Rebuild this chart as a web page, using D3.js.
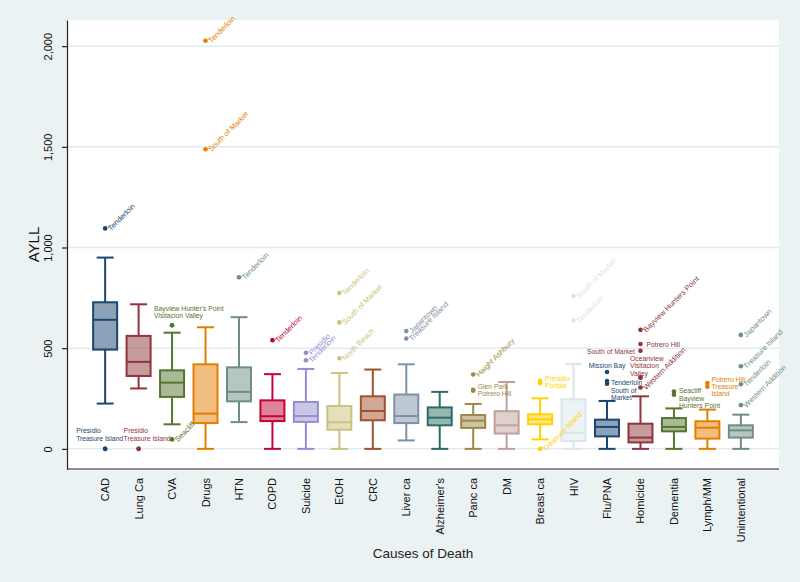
<!DOCTYPE html>
<html>
<head>
<meta charset="utf-8">
<script src="https://cdn.jsdelivr.net/npm/d3@7/dist/d3.min.js"></script>
<style>
  html, body { margin: 0; padding: 0; background: #eaf2f3; }
  svg { display: block; font-family: "Liberation Sans", Arial, Helvetica, sans-serif; }
</style>
</head>
<body>
<svg id="chart" width="800" height="582"></svg>
<script>
// ---------- DATA ----------
const categories = ["CAD","Lung Ca","CVA","Drugs","HTN","COPD","Suicide","EtOH","CRC","Liver ca",
  "Alzheimer's","Panc ca","DM","Breast ca","HIV","Flu/PNA","Homicide","Dementia","Lymph/MM","Unintentional"];
const whiskerLow  = [225, 300, 122,   0, 133,   0,   0,   0,   0,  42,   0,   0,   0,  47,   0,   0,   0,   0,   0,   0];
const q1          = [493, 362, 258, 128, 236, 138, 134,  95, 142, 128, 117, 104,  76, 122,  39,  62,  32,  87,  51,  56];
const median      = [641, 432, 329, 175, 283, 162, 163, 132, 188, 163, 155, 140, 117, 147,  79, 109,  56, 109, 105,  92];
const q3          = [728, 561, 390, 420, 405, 241, 233, 213, 261, 270, 206, 168, 187, 172, 246, 145, 125, 153, 137, 117];
const whiskerHigh = [950, 718, 577, 604, 654, 371, 397, 377, 394, 420, 283, 223, 332, 251, 422, 238, 261, 201, 195, 170];

const outlierCause = [
  "CAD","CAD","CAD",
  "Lung Ca","Lung Ca",
  "CVA","CVA","CVA",
  "Drugs","Drugs",
  "HTN",
  "COPD",
  "Suicide","Suicide",
  "EtOH","EtOH","EtOH",
  "Liver ca","Liver ca",
  "Panc ca","Panc ca","Panc ca",
  "Breast ca","Breast ca","Breast ca",
  "HIV","HIV",
  "Flu/PNA","Flu/PNA","Flu/PNA",
  "Homicide","Homicide","Homicide","Homicide","Homicide","Homicide",
  "Dementia","Dementia",
  "Lymph/MM","Lymph/MM",
  "Unintentional","Unintentional","Unintentional","Unintentional"
];
const outlierValue = [
  1095, 0, 0,
  0, 0,
  614, 614, 47,
  2027, 1488,
  852,
  540,
  477, 440,
  774, 628, 450,
  585, 548,
  369, 293, 289,
  338, 326, 0,
  759, 637,
  382, 337, 324,
  591, 521, 487, 354, 354, 305,
  285, 269,
  327, 309,
  566, 410, 321, 217
];
const outlierName = [
  "Tenderloin","Presidio","Treasure Island",
  "Presidio","Treasure Island",
  "Bayview Hunter's Point","Visitacion Valley","Seacliff",
  "Tenderloin","South of Market",
  "Tenderloin",
  "Tenderloin",
  "Presidio","Tenderloin",
  "Tenderloin","South of Market","North Beach",
  "Japantown","Treasure Island",
  "Haight Ashbury","Glen Park","Potrero Hill",
  "Presidio","Portola","Treasure Island",
  "South of Market","Tenderloin",
  "Mission Bay","Tenderloin","South of Market",
  "Bayview Hunters Point","Potrero Hill","South of Market","Oceanview","Visitacion Valley","Western Addition",
  "Seacliff","Bayview Hunters Point",
  "Potrero Hill","Treasure Island",
  "Japantown","Treasure Island","Tenderloin","Western Addition"
];
// points sharing a group share one horizontal label; "" = own rotated label
const outlierGroup = [
  "", "cad0", "cad0",
  "lung0", "lung0",
  "cvaHi", "cvaHi", "",
  "", "",
  "",
  "",
  "", "",
  "", "", "",
  "", "",
  "", "pancLo", "pancLo",
  "breastHi", "breastHi", "",
  "", "",
  "fluMB", "fluLo", "fluLo",
  "", "homPH", "homSoM", "homOV", "homOV", "",
  "dem", "dem",
  "lymph", "lymph",
  "", "", "", ""
];
const yTicks = [0, 500, 1000, 1500, 2000];
const yTitle = "AYLL";
const xTitle = "Causes of Death";

// ---------- STYLE ----------
const palette = ["#1a476f","#90353b","#55752f","#e37e00","#6e8e84","#c10534","#938dd2","#cac27e",
  "#a0522d","#7b92a8","#2d6d66","#9c8847","#bfa19c","#ffd200","#d9e6eb"];
const groupStyle = {
  cad0:     {anchor:"start",  dx:-29, dy:-18.5, wrap:15},
  lung0:    {anchor:"start",  dx:-15, dy:-18.5, wrap:15},
  cvaHi:    {anchor:"start",  dx:-18, dy:-17.7, wrap:22},
  pancLo:   {anchor:"start",  dx:4.5, dy:-4.5,  wrap:12},
  breastHi: {anchor:"start",  dx:5,   dy:-4.3,  wrap:8},
  fluMB:    {anchor:"middle", dx:0,   dy:-7,    wrap:20},
  fluLo:    {anchor:"start",  dx:4,   dy:0,     wrap:10},
  homPH:    {anchor:"start",  dx:6,   dy:0,     wrap:20},
  homSoM:   {anchor:"end",    dx:-5.5,dy:0,     wrap:20},
  homOV:    {anchor:"start",  dx:-10.5,dy:-19.4,wrap:10},
  dem:      {anchor:"start",  dx:5,   dy:-2.7,  wrap:13},
  lymph:    {anchor:"start",  dx:4,   dy:-6,    wrap:12}
};

const svg = d3.select("#chart");
const W = 800, H = 582;
const plot = {left: 67, right: 779, top: 20, bottom: 469};

svg.append("rect").attr("width", W).attr("height", H).attr("fill", "#eaf2f3");
svg.append("rect").attr("x", plot.left).attr("y", plot.top)
  .attr("width", plot.right - plot.left).attr("height", plot.bottom - plot.top).attr("fill", "#ffffff");

const x = d3.scalePoint().domain(categories).range([plot.left, plot.right]).padding(1.14);
const y = d3.scaleLinear().domain([-100, 2130]).range([plot.bottom, plot.top]);
const color = c => palette[categories.indexOf(c) % palette.length];

// gridlines
svg.append("g").selectAll("line").data(yTicks).join("line")
  .attr("x1", plot.left).attr("x2", plot.right)
  .attr("y1", d => y(d)).attr("y2", d => y(d))
  .attr("stroke", "#e1ebf0").attr("stroke-width", 1.5);

// y axis
const yAxis = svg.append("g").attr("transform", `translate(${plot.left},0)`)
  .call(d3.axisLeft(y).tickValues(yTicks).tickSize(5).tickSizeOuter(0).tickFormat(d3.format(",")));
yAxis.select(".domain").attr("stroke", "#222").attr("stroke-width", 1.2);
yAxis.selectAll(".tick line").attr("stroke", "#222").attr("stroke-width", 1.2);
yAxis.selectAll(".tick text")
  .attr("x", null).attr("dy", null)
  .attr("transform", "translate(-19,0) rotate(-90)")
  .attr("text-anchor", "middle").attr("dominant-baseline", "central")
  .attr("font-size", 11).attr("fill", "#111")
  .style("font-family", '"Liberation Sans", Arial, sans-serif');

// x axis line
svg.append("line").attr("x1", plot.left).attr("x2", plot.right)
  .attr("y1", plot.bottom).attr("y2", plot.bottom)
  .attr("stroke", "#222").attr("stroke-width", 1.2);

// x labels
svg.append("g").selectAll("text").data(categories).join("text")
  .attr("transform", d => `translate(${x(d)},478) rotate(-90)`)
  .attr("text-anchor", "end").attr("dominant-baseline", "central")
  .attr("font-size", 11).attr("fill", "#111").text(d => d);

// titles
svg.append("text").attr("transform", `translate(33,${(plot.top + plot.bottom) / 2}) rotate(-90)`)
  .attr("text-anchor", "middle").attr("dominant-baseline", "central")
  .attr("font-size", 15).attr("fill", "#111").text(yTitle);
svg.append("text").attr("x", (plot.left + plot.right) / 2).attr("y", 553)
  .attr("text-anchor", "middle").attr("dominant-baseline", "central")
  .attr("font-size", 13.5).attr("fill", "#222").text(xTitle);

// boxes
const boxW = 24, capW = 17;
const boxes = categories.map((c, i) => ({c, lo: whiskerLow[i], q1: q1[i], med: median[i], q3: q3[i], hi: whiskerHigh[i]}));
const bg = svg.append("g").selectAll("g").data(boxes).join("g");
bg.append("line").attr("x1", d => x(d.c)).attr("x2", d => x(d.c))
  .attr("y1", d => y(d.q3)).attr("y2", d => y(d.hi))
  .attr("stroke", d => color(d.c)).attr("stroke-width", 2);
bg.append("line").attr("x1", d => x(d.c)).attr("x2", d => x(d.c))
  .attr("y1", d => y(d.q1)).attr("y2", d => y(d.lo))
  .attr("stroke", d => color(d.c)).attr("stroke-width", 2);
bg.append("line").attr("x1", d => x(d.c) - capW / 2).attr("x2", d => x(d.c) + capW / 2)
  .attr("y1", d => y(d.hi)).attr("y2", d => y(d.hi))
  .attr("stroke", d => color(d.c)).attr("stroke-width", 2);
bg.append("line").attr("x1", d => x(d.c) - capW / 2).attr("x2", d => x(d.c) + capW / 2)
  .attr("y1", d => y(d.lo)).attr("y2", d => y(d.lo))
  .attr("stroke", d => color(d.c)).attr("stroke-width", 2);
bg.append("rect").attr("x", d => x(d.c) - boxW / 2).attr("width", boxW)
  .attr("y", d => y(d.q3)).attr("height", d => y(d.q1) - y(d.q3))
  .attr("fill", d => color(d.c)).attr("fill-opacity", 0.5)
  .attr("stroke", d => color(d.c)).attr("stroke-width", 2);
bg.append("line").attr("x1", d => x(d.c) - boxW / 2).attr("x2", d => x(d.c) + boxW / 2)
  .attr("y1", d => y(d.med)).attr("y2", d => y(d.med))
  .attr("stroke", d => color(d.c)).attr("stroke-width", 2);

// outliers
const outliers = outlierCause.map((c, i) => ({c, v: outlierValue[i], name: outlierName[i], g: outlierGroup[i]}));
svg.append("g").selectAll("circle").data(outliers).join("circle")
  .attr("cx", d => x(d.c)).attr("cy", d => y(d.v)).attr("r", 2.3)
  .attr("fill", d => color(d.c));

// rotated labels
svg.append("g").selectAll("text").data(outliers.filter(d => d.g === "")).join("text")
  .attr("transform", d => `translate(${x(d.c) + 4},${y(d.v) + 1}) rotate(-45)`)
  .attr("dominant-baseline", "central").attr("font-size", 7.5)
  .attr("fill", d => color(d.c)).text(d => d.name);

// grouped horizontal labels
function wrapWords(text, maxChars) {
  const words = text.split(" "); const lines = []; let cur = "";
  words.forEach(w => {
    const t = cur ? cur + " " + w : w;
    if (t.length > maxChars && cur) { lines.push(cur); cur = w; } else cur = t;
  });
  if (cur) lines.push(cur);
  return lines;
}
const groups = d3.groups(outliers.filter(d => d.g !== ""), d => d.g);
const lg = svg.append("g");
groups.forEach(([key, pts]) => {
  const st = groupStyle[key];
  const cx = x(pts[0].c), cy = y(d3.mean(pts, p => p.v));
  const lines = wrapWords(pts.map(p => p.name).join(" "), st.wrap);
  const t = lg.append("text").attr("font-size", 6.8).attr("fill", color(pts[0].c))
    .attr("text-anchor", st.anchor).attr("dominant-baseline", "central");
  lines.forEach((ln, k) => {
    t.append("tspan").attr("x", cx + st.dx).attr("y", cy + st.dy + k * 7.3).text(ln);
  });
});
</script>
</body>
</html>
